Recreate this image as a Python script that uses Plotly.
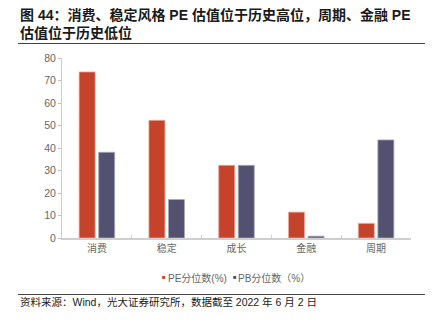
import plotly.graph_objects as go

categories = ["消费", "稳定", "成长", "金融", "周期"]
pe_values = [73.8, 52.3, 32.3, 11.5, 6.5]
pb_values = [38.1, 17.1, 32.3, 0.8, 43.6]
y_ticks = [0, 10, 20, 30, 40, 50, 60, 70, 80]
pe_name = "PE分位数(%)"
pb_name = "PB分位数（%）"
title_line1 = "图 44：消费、稳定风格 PE 估值位于历史高位，周期、金融 PE"
title_line2 = "估值位于历史低位"
source_text = "资料来源：Wind，光大证券研究所，数据截至 2022 年 6 月 2 日"

RED = "#C5432A"
NAVY = "#525170"
FONT = "Liberation Sans, Noto Sans CJK SC, sans-serif"

fig = go.Figure()
fig.add_trace(go.Bar(x=categories, y=pe_values, name=pe_name,
                     marker=dict(color=RED, line=dict(color="#EBA89A", width=0.8)),
                     showlegend=False))
fig.add_trace(go.Bar(x=categories, y=pb_values, name=pb_name,
                     marker=dict(color=NAVY, line=dict(color="#A9A8BC", width=0.8)),
                     showlegend=False))

W, H = 433, 328
L, R, T, B = 62, 22, 58, 90
fig.update_layout(
    width=W, height=H,
    margin=dict(l=L, r=R, t=T, b=B),
    paper_bgcolor="white", plot_bgcolor="white",
    barmode="group", bargap=0.44, bargroupgap=0.18,
    font=dict(family=FONT, color="#666666", size=10),
    showlegend=False,
)
fig.update_yaxes(range=[0, 80], tickvals=y_ticks, showgrid=False,
                 showline=True, linecolor="#CFCFCF", linewidth=1,
                 ticks="outside", ticklen=3, tickcolor="#BDBDBD",
                 tickfont=dict(size=10.5, color="#666666"), zeroline=False)
fig.update_xaxes(showgrid=False, showline=True, linecolor="#CFCFCF", linewidth=1.5,
                 ticks="inside", ticklen=3, tickcolor="#CFCFCF", tickson="boundaries",
                 tickfont=dict(size=10, color="#666666"))

pw, ph = W - L - R, H - T - B
def fx(p):
    return (p - L) / pw
def fy(p):
    return (H - B - p) / ph

anns = [
    (title_line1, 18, 15, 14, "#1a1a1a", True),
    (title_line2, 18, 33, 14, "#1a1a1a", True),
    (source_text, 18, 302, 10.5, "#1a1a1a", False),
    ("■", 160, 276.5, 6, RED, False),
    (pe_name, 166, 278, 10, "#666666", False),
    ("■", 231, 276.5, 6, NAVY, False),
    (pb_name, 236, 278, 10, "#666666", False),
]
for text, xp, yp, size, color, bold in anns:
    fig.add_annotation(text=("<b>" + text + "</b>") if bold else text,
                       x=fx(xp), y=fy(yp), xref="paper", yref="paper",
                       xanchor="left", yanchor="middle", showarrow=False,
                       font=dict(size=size, color=color, family=FONT))

fig.add_shape(type="line", xref="paper", yref="paper", x0=fx(18), x1=fx(425), y0=fy(43.5), y1=fy(43.5),
              line=dict(color="#444444", width=1.2))
fig.add_shape(type="line", xref="paper", yref="paper", x0=fx(18), x1=fx(425), y0=fy(294.5), y1=fy(294.5),
              line=dict(color="#444444", width=1))

fig.write_html("out.html")
